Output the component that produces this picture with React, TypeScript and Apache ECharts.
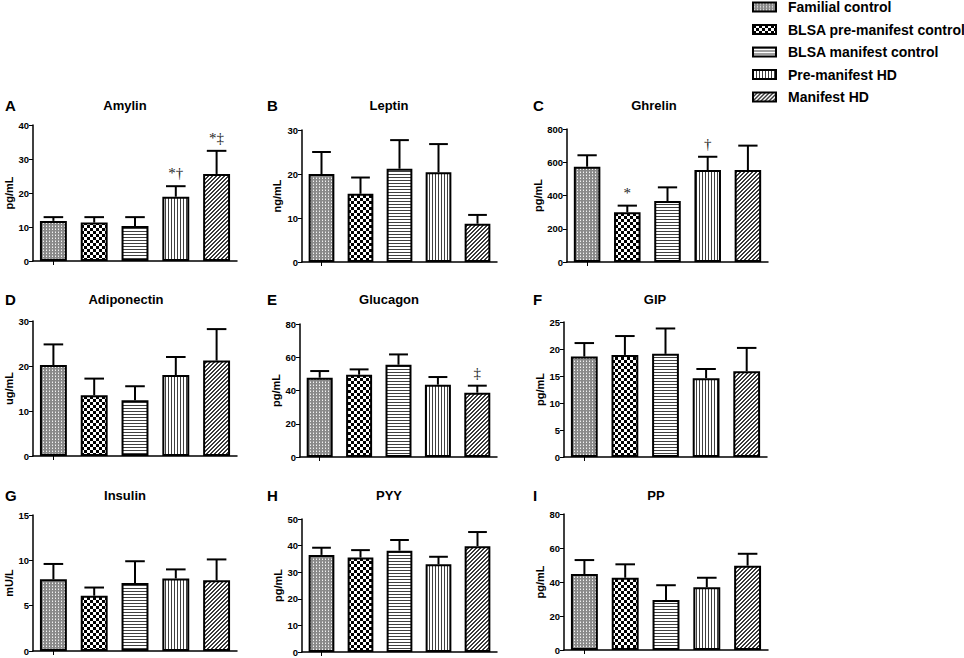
import React, { useEffect, useRef } from "react";
import * as echarts from "echarts";

const groups = [
  "Familial control",
  "BLSA pre-manifest control",
  "BLSA manifest control",
  "Pre-manifest HD",
  "Manifest HD",
];

const panelLetters = ["A", "B", "C", "D", "E", "F", "G", "H", "I"];
const panelTitles = ["Amylin", "Leptin", "Ghrelin", "Adiponectin", "Glucagon", "GIP", "Insulin", "PYY", "PP"];
const unitLabels = ["pg/mL", "ng/mL", "pg/mL", "ug/mL", "pg/mL", "pg/mL", "mU/L", "pg/mL", "pg/mL"];
const axisMax = [40, 30, 800, 30, 80, 25, 15, 50, 80];
const axisStep = [10, 10, 200, 10, 20, 5, 5, 10, 20];

const amylinMean = [11.8, 11.3, 10.3, 18.9, 25.6];
const amylinUpper = [12.9, 12.9, 12.9, 22.0, 32.4];
const amylinMarks = ["", "", "", "*†", "*‡"];

const leptinMean = [20.0, 15.5, 21.2, 20.4, 8.7];
const leptinUpper = [25.0, 19.2, 27.7, 26.8, 10.7];

const ghrelinMean = [573, 299, 367, 553, 553];
const ghrelinUpper = [642, 339, 449, 633, 700];
const ghrelinMarks = ["", "*", "", "†", ""];

const adiponectinMean = [20.2, 13.5, 12.4, 18.0, 21.2];
const adiponectinUpper = [24.8, 17.2, 15.5, 22.0, 28.2];

const glucagonMean = [47.7, 49.5, 55.5, 43.5, 38.7];
const glucagonUpper = [51.7, 52.7, 61.7, 48.1, 42.9];
const glucagonMarks = ["", "", "", "", "‡"];

const gipMean = [18.6, 18.9, 19.1, 14.6, 15.9];
const gipUpper = [21.1, 22.4, 23.8, 16.3, 20.2];

const insulinMean = [7.9, 6.1, 7.5, 8.0, 7.8];
const insulinUpper = [9.6, 7.0, 9.9, 9.0, 10.1];

const pyyMean = [36.5, 35.5, 38.1, 33.0, 39.8];
const pyyUpper = [39.2, 38.3, 42.1, 35.8, 45.1];

const ppMean = [44.7, 42.5, 29.4, 36.9, 49.6];
const ppUpper = [52.9, 50.4, 38.1, 42.5, 56.6];

const noMarks = ["", "", "", "", ""];

const means = [amylinMean, leptinMean, ghrelinMean, adiponectinMean, glucagonMean, gipMean, insulinMean, pyyMean, ppMean];
const uppers = [amylinUpper, leptinUpper, ghrelinUpper, adiponectinUpper, glucagonUpper, gipUpper, insulinUpper, pyyUpper, ppUpper];
const marks = [amylinMarks, noMarks, ghrelinMarks, noMarks, glucagonMarks, noMarks, noMarks, noMarks, noMarks];

// layout (positions only)
const grids = [
  { left: 33, top: 125, width: 204, height: 136 },
  { left: 302, top: 130, width: 195, height: 132 },
  { left: 567, top: 129, width: 201, height: 133 },
  { left: 33, top: 321, width: 204, height: 135 },
  { left: 300, top: 324, width: 197, height: 133 },
  { left: 564, top: 322, width: 203, height: 135 },
  { left: 33, top: 515, width: 204, height: 136 },
  { left: 302, top: 519, width: 195, height: 133 },
  { left: 564, top: 514, width: 204, height: 136 },
];
const nameGaps = [18, 20, 21, 19, 18, 19, 18, 19, 19];
const letterPos = [
  [5, 105], [267, 105], [533, 105],
  [5, 299], [267, 299], [533, 299],
  [5, 495], [267, 495], [533, 495],
];
const titlePos = [
  [125, 105], [389, 105], [654, 105],
  [126, 299], [389, 299], [655, 299],
  [125, 495], [389, 495], [656, 495],
];

const FONT = 'Arial, "Liberation Sans", sans-serif';

function tile(w: number, h: number, bg: string, draw: (ctx: CanvasRenderingContext2D) => void) {
  const c = document.createElement("canvas");
  c.width = w;
  c.height = h;
  const ctx = c.getContext("2d") as CanvasRenderingContext2D;
  ctx.fillStyle = bg;
  ctx.fillRect(0, 0, w, h);
  draw(ctx);
  return { image: c, repeat: "repeat", imageWidth: w, imageHeight: h } as any;
}

function makePatterns() {
  const fc = tile(3, 3, "#8a8a8a", (ctx) => {
    ctx.fillStyle = "#f2f2f2";
    ctx.fillRect(1, 1, 1, 1);
    ctx.fillStyle = "#b8b8b8";
    ctx.fillRect(1, 0, 1, 1);
  });
  const bpc = tile(6, 6, "#ffffff", (ctx) => {
    ctx.fillStyle = "#000000";
    ctx.fillRect(0, 0, 3, 3);
    ctx.fillRect(3, 3, 3, 3);
  });
  const bmc = tile(4, 3, "#ffffff", (ctx) => {
    ctx.fillStyle = "#404040";
    ctx.fillRect(0, 0, 4, 1);
  });
  const phd = tile(3, 4, "#ffffff", (ctx) => {
    ctx.fillStyle = "#404040";
    ctx.fillRect(0, 0, 1, 4);
  });
  const mhd = tile(4, 4, "#ffffff", (ctx) => {
    ctx.fillStyle = "#3a3a3a";
    for (let x = 0; x < 4; x++) {
      for (let y = 0; y < 4; y++) {
        const s = (x + y) % 4;
        if (s === 3 || s === 0) ctx.fillRect(x, y, 1, 1);
      }
    }
  });
  return [fc, bpc, bmc, phd, mhd];
}

export default function App() {
  const ref = useRef<HTMLDivElement>(null);

  useEffect(() => {
    if (!ref.current) return;
    const chart = echarts.init(ref.current, undefined, { renderer: "svg" });
    const patterns = makePatterns();

    const xAxes: any[] = [];
    const yAxes: any[] = [];
    const series: any[] = [];
    const graphics: any[] = [];

    grids.forEach((_, p) => {
      xAxes.push({
        type: "category",
        gridIndex: p,
        data: groups,
        axisLabel: { show: false },
        axisTick: { show: true, alignWithLabel: true, length: 4, lineStyle: { color: "#000", width: 1 } },
        axisLine: { show: true, lineStyle: { color: "#000", width: 1.5 } },
        splitLine: { show: false },
      });
      yAxes.push({
        type: "value",
        gridIndex: p,
        min: 0,
        max: axisMax[p],
        interval: axisStep[p],
        splitLine: { show: false },
        axisLine: { show: true, lineStyle: { color: "#000", width: 1.5 } },
        axisTick: { show: true, length: 4, lineStyle: { color: "#000", width: 1 } },
        axisLabel: { color: "#000", fontSize: 9.5, fontWeight: "bold", fontFamily: FONT, margin: 4 },
        name: unitLabels[p],
        nameLocation: "middle",
        nameRotate: 90,
        nameGap: nameGaps[p],
        nameTextStyle: { color: "#000", fontSize: 11, fontWeight: "bold", fontFamily: FONT },
      });
      groups.forEach((g, gi) => {
        series.push({
          type: "bar",
          name: g,
          xAxisIndex: p,
          yAxisIndex: p,
          barWidth: "66%",
          barGap: "-100%",
          data: groups.map((_, i) => (i === gi ? means[p][gi] : "-")),
          itemStyle: { color: patterns[gi], borderColor: "#000", borderWidth: 2 },
          emphasis: { disabled: true },
        });
      });
      const pm = marks[p];
      series.push({
        type: "custom",
        xAxisIndex: p,
        yAxisIndex: p,
        z: 5,
        silent: true,
        data: means[p].map((m, i) => [i, m, uppers[p][i]]),
        encode: { x: 0, y: [1, 2] },
        renderItem: (params: any, api: any) => {
          const x = api.value(0);
          const p0 = api.coord([x, api.value(1)]);
          const p1 = api.coord([x, api.value(2)]);
          const band = api.size([1, 0])[0];
          const hw = band * 0.24;
          const children: any[] = [
            { type: "line", shape: { x1: p0[0], y1: p0[1], x2: p1[0], y2: p1[1] }, style: { stroke: "#000", lineWidth: 2 } },
            { type: "line", shape: { x1: p1[0] - hw, y1: p1[1], x2: p1[0] + hw, y2: p1[1] }, style: { stroke: "#000", lineWidth: 2 } },
          ];
          const t = pm[params.dataIndex];
          if (t) {
            children.push({
              type: "text",
              x: p1[0],
              y: p1[1] - 13,
              style: {
                text: t,
                fill: "#222",
                font: '15px "Liberation Serif", "DejaVu Serif", serif',
                align: "center",
                verticalAlign: "middle",
              },
            });
          }
          return { type: "group", children };
        },
      });
      graphics.push({
        type: "text",
        x: letterPos[p][0],
        y: letterPos[p][1],
        style: {
          text: panelLetters[p],
          fill: "#000",
          font: "bold 15px " + FONT,
          align: "left",
          verticalAlign: "middle",
        },
      });
      graphics.push({
        type: "text",
        x: titlePos[p][0],
        y: titlePos[p][1],
        style: {
          text: panelTitles[p],
          fill: "#000",
          font: "bold 13px " + FONT,
          align: "center",
          verticalAlign: "middle",
        },
      });
    });

    chart.setOption({
      animation: false,
      backgroundColor: "#fff",
      grid: grids.map((g) => ({ ...g, containLabel: false })),
      xAxis: xAxes,
      yAxis: yAxes,
      legend: {
        data: groups,
        orient: "vertical",
        left: 752,
        top: 0,
        padding: 0,
        itemWidth: 23,
        itemHeight: 9,
        itemGap: 8.5,
        icon: "rect",
        selectedMode: false,
        textStyle: { color: "#000", fontSize: 14, fontWeight: "bold", fontFamily: FONT, padding: [0, 0, 0, 7] },
      },
      series,
      graphic: graphics,
    });

    return () => chart.dispose();
  }, []);

  return (
    <div
      ref={ref}
      style={{ position: "fixed", left: 0, top: 0, width: 964, height: 658, background: "#fff" }}
    />
  );
}
